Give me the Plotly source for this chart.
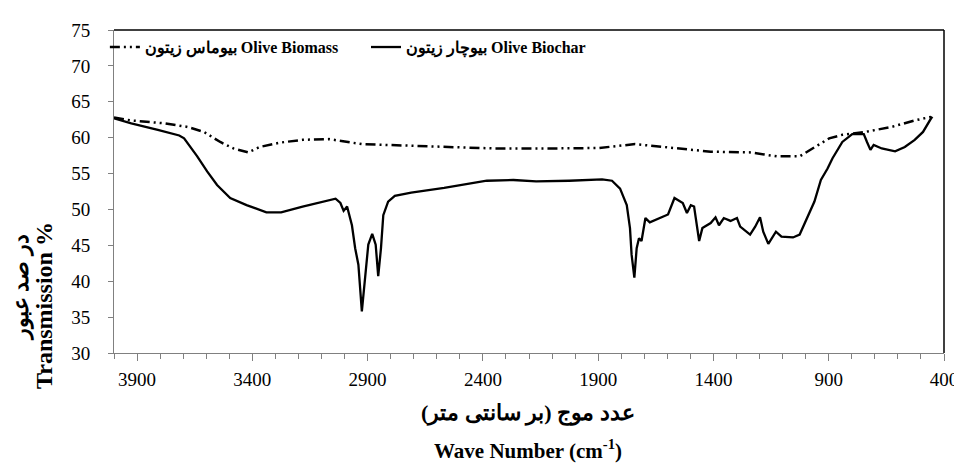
import plotly.graph_objects as go

# Olive Biochar (solid line)
biochar_wn = [4000, 3925, 3810, 3717, 3696, 3668, 3639, 3596, 3553, 3496, 3425, 3339, 3275, 3182, 3082,
              3039, 3018, 3004, 2989, 2968, 2954, 2940, 2925, 2911, 2897, 2880, 2865, 2854, 2842,
              2832, 2811, 2782, 2711, 2568, 2383, 2268, 2169, 2026, 1883, 1840, 1805, 1776, 1762,
              1755, 1743, 1733, 1723, 1712, 1695, 1676, 1640, 1597, 1569, 1533, 1515, 1498, 1484,
              1472, 1462, 1448, 1412, 1391, 1376, 1355, 1326, 1298, 1284, 1241, 1219, 1198, 1184,
              1162, 1148, 1129, 1105, 1055, 1026, 998, 962, 934, 905, 884, 841, 798, 748, 734,
              719, 705, 670, 612, 570, 527, 491, 456, 450]
biochar_t = [62.7, 62.0, 61.1, 60.3, 59.9, 58.7, 57.4, 55.3, 53.4, 51.6, 50.6, 49.6, 49.6, 50.4, 51.2,
             51.5, 50.9, 49.8, 50.4, 47.8, 44.6, 42.3, 35.8, 40.0, 45.1, 46.6, 45.1, 40.7, 44.6,
             49.2, 51.1, 51.9, 52.35, 53.0, 54.0, 54.1, 53.9, 54.0, 54.2, 54.0, 52.9, 50.6, 47.4,
             43.7, 40.5, 44.6, 46.0, 45.6, 48.8, 48.2, 48.7, 49.3, 51.6, 50.9, 49.5, 50.6, 50.4,
             47.4, 45.6, 47.4, 48.1, 48.9, 47.8, 48.8, 48.4, 48.8, 47.6, 46.5, 47.6, 48.9, 46.9,
             45.2, 46.0, 46.9, 46.2, 46.1, 46.5, 48.5, 51.1, 54.1, 55.7, 57.1, 59.4, 60.5, 60.5, 59.4,
             58.3, 59.0, 58.5, 58.1, 58.7, 59.7, 60.8, 62.7, 62.9]

# Olive Biomass (dash-dot-dot line)
biomass_wn = [4000, 3925, 3782, 3682, 3610, 3539, 3482, 3418, 3368, 3282, 3182, 3068, 2925, 2782,
              2640, 2497, 2354, 2097, 1897, 1740, 1597, 1412, 1241, 1126, 1026, 970, 898, 841,
              741, 627, 527, 456]
biomass_t = [62.8, 62.4, 62.0, 61.5, 60.8, 59.4, 58.5, 57.95, 58.7, 59.3, 59.7, 59.8, 59.1, 59.0,
             58.8, 58.65, 58.5, 58.5, 58.56, 59.1, 58.6, 58.05, 57.95, 57.4, 57.4, 58.5, 59.9, 60.4,
             60.8, 61.5, 62.4, 62.9]

x_ticks = [3900, 3400, 2900, 2400, 1900, 1400, 900, 400]
y_ticks = [30, 35, 40, 45, 50, 55, 60, 65, 70, 75]

name_biomass = "بیوماس زیتون Olive Biomass"
name_biochar = "بیوچار زیتون Olive Biochar"
x_title_fa = "\u200fعدد موج (بر سانتی متر)\u200f"
x_title_en = "Wave Number (cm<sup>-1</sup>)"
y_title_fa = "در صد عبور"
y_title_en = "Transmission %"

SERIF = "Liberation Serif, Times New Roman, serif"
LEG_FONT = dict(family=SERIF, size=16, weight="bold", color="black")

fig = go.Figure()
fig.add_trace(go.Scatter(x=biomass_wn, y=biomass_t, mode="lines", name=name_biomass,
                         legend="legend",
                         line=dict(color="black", width=2.5, dash="10px,4px,2px,4px,2px,4px")))
fig.add_trace(go.Scatter(x=biochar_wn, y=biochar_t, mode="lines", name=name_biochar,
                         legend="legend2",
                         line=dict(color="black", width=2.3)))

fig.update_layout(
    width=962, height=468,
    margin=dict(l=106, r=16, t=22, b=123),
    paper_bgcolor="white", plot_bgcolor="white",
    font=dict(family=SERIF, color="black", size=19),
    legend=dict(orientation="h", x=-0.011, y=0.947, xanchor="left", yanchor="middle",
                bgcolor="rgba(0,0,0,0)", font=LEG_FONT),
    legend2=dict(orientation="h", x=0.3036, y=0.947, xanchor="left", yanchor="middle",
                 bgcolor="rgba(0,0,0,0)", font=LEG_FONT),
    xaxis=dict(range=[4000, 400], tickmode="linear", tick0=400, dtick=500,
               ticks="outside", ticklen=7, tickcolor="#808080", showline=True,
               linecolor="#808080", linewidth=1, showgrid=False, zeroline=False,
               ticklabelstandoff=2, tickfont=dict(family=SERIF, size=19),
               minor=dict(dtick=100, tick0=0, ticks="outside", ticklen=5, tickcolor="#808080",
                          showgrid=False)),
    yaxis=dict(range=[30, 75], tickvals=y_ticks, ticks="outside", ticklen=5,
               tickcolor="#808080", showline=True, linecolor="#808080", linewidth=1,
               showgrid=False, zeroline=False, ticklabelstandoff=14,
               tickfont=dict(family=SERIF, size=19)),
    showlegend=True,
)

fig.add_shape(type="line", xref="paper", yref="paper", x0=0, x1=1, y0=1, y1=1,
              line=dict(color="black", width=1.5))
fig.add_shape(type="line", xref="paper", yref="paper", x0=1, x1=1, y0=0, y1=1,
              line=dict(color="black", width=1.5))

fig.add_annotation(text=x_title_fa, xref="paper", yref="paper", x=0.4988, y=-0.185,
                   showarrow=False, xanchor="center", yanchor="middle",
                   font=dict(family=SERIF, size=22, weight="bold"))
fig.add_annotation(text=x_title_en, xref="paper", yref="paper", x=0.4988, y=-0.30,
                   showarrow=False, xanchor="center", yanchor="middle",
                   font=dict(family=SERIF, size=21, weight="bold"))
fig.add_annotation(text=y_title_fa, xref="paper", yref="paper", x=0, xshift=-93, y=0.2012,
                   showarrow=False, xanchor="center", yanchor="middle", textangle=-90,
                   font=dict(family=SERIF, size=22, weight="bold"))
fig.add_annotation(text=y_title_en, xref="paper", yref="paper", x=0, xshift=-70, y=0.1455,
                   showarrow=False, xanchor="center", yanchor="middle", textangle=-90,
                   font=dict(family=SERIF, size=24, weight="bold"))

fig.write_html("out.html")
